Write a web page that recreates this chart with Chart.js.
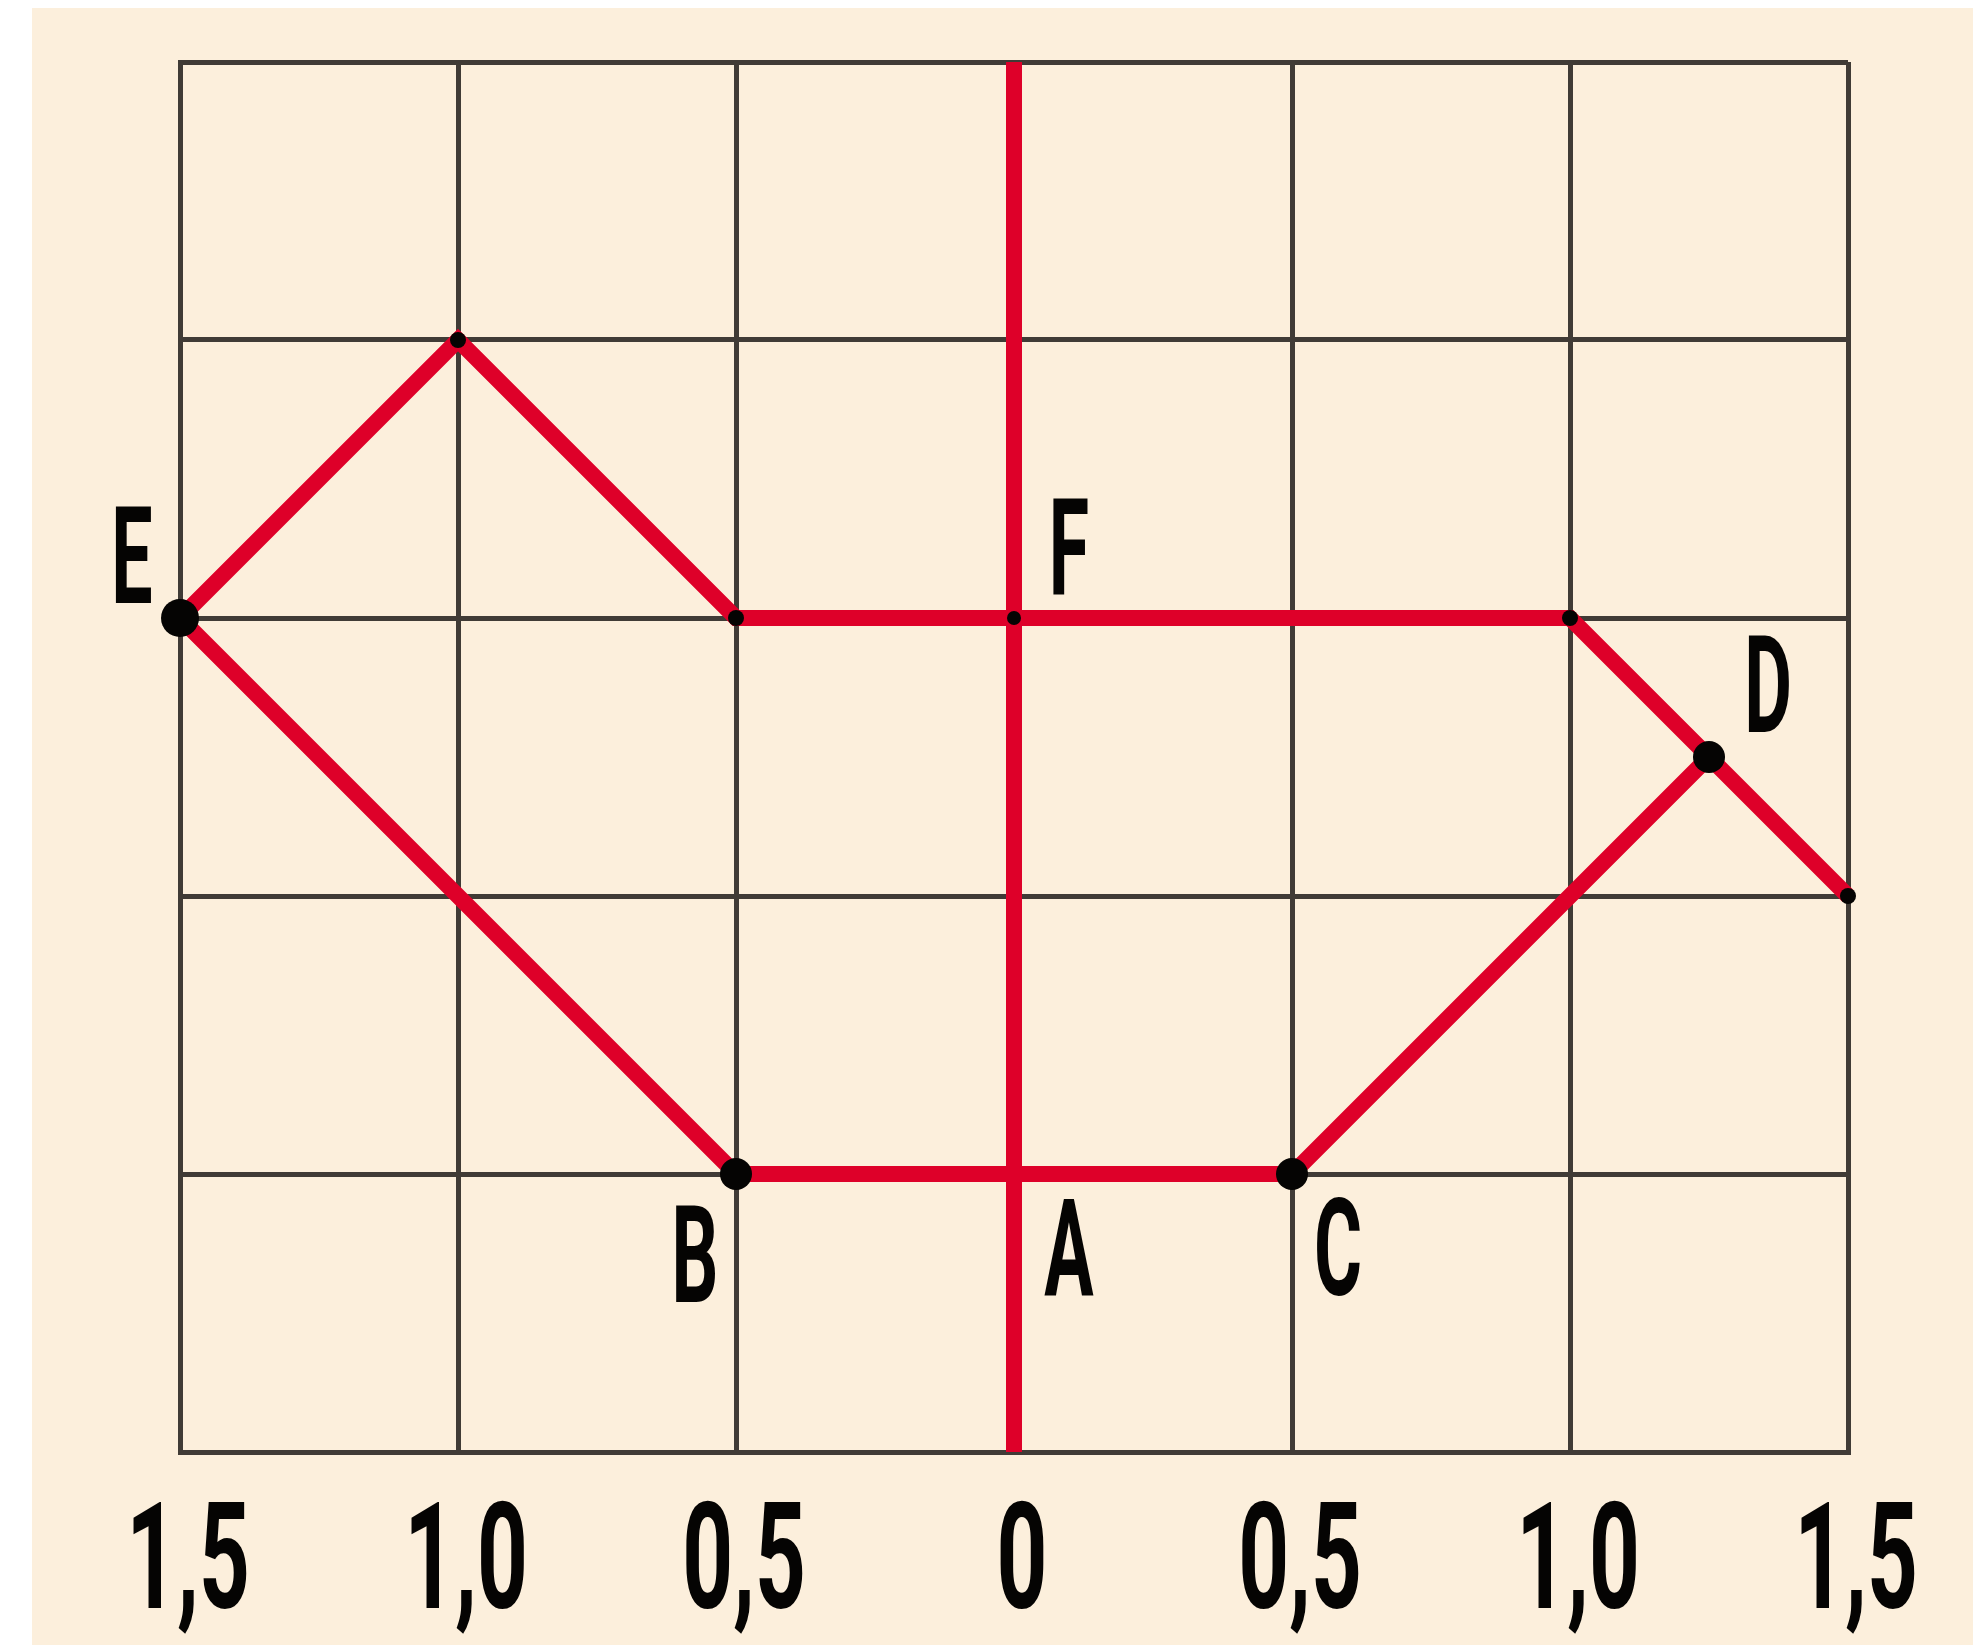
<!DOCTYPE html>
<html>
<head>
<meta charset="utf-8">
<script src="https://cdn.jsdelivr.net/npm/chart.js"></script>
<style>
  body { margin: 0; background: #ffffff; }
  #paper { position: absolute; left: 32px; top: 8px; width: 1941px; height: 1637px; background: #fcefdc; }
  #grid-chart { position: absolute; left: 0; top: 0; }
</style>
</head>
<body>
<div id="paper"></div>
<canvas id="grid-chart" width="1973" height="1645"></canvas>
<script>
// x axis ticks (shown without sign, comma decimals)
const tickValues = [-1.5, -1.0, -0.5, 0, 0.5, 1.0, 1.5];
const tickLabels = ['1,5', '1,0', '0,5', '0', '0,5', '1,0', '1,5'];

// upper red path: E -> peak -> F row -> D -> right edge
const upperX = [-1.5, -1.0, -0.5, 0, 1.0, 1.25, 1.5];
const upperY = [1.5, 2.0, 1.5, 1.5, 1.5, 1.25, 1.0];

// lower red path: E -> B -> A -> C -> D
const lowerX = [-1.5, -0.5, 0, 0.5, 1.25];
const lowerY = [1.5, 0.5, 0.5, 0.5, 1.25];

// vertical red axis
const axisX = [0, 0];
const axisY = [0, 2.5];

// black vertex dots
const dotX = [-1.5, -1.0, -0.5, 0, 1.0, 1.25, 1.5, -0.5, 0.5];
const dotY = [1.5, 2.0, 1.5, 1.5, 1.5, 1.25, 1.0, 0.5, 0.5];

// named points
const pointNames = ['E', 'F', 'D', 'B', 'A', 'C'];
const pointX = [-1.5, 0, 1.25, -0.5, 0, 0.5];
const pointY = [1.5, 1.5, 1.25, 0.5, 0.5, 0.5];

const toXY = (xs, ys) => xs.map((x, i) => ({ x: x, y: ys[i] }));

const RED = '#de0029';
const INK = '#050403';
const GRID = '#403b36';

// label offsets in pixels from each named point (center x, baseline y)
const nameOffsets = [[-48, -15], [55, -23], [59, -25], [-41, 128], [55, 121], [46, 121]];

const labelPlugin = {
    id: 'labels',
    afterDraw(chart) {
        const ctx = chart.ctx;
        const xs = chart.scales.x;
        const ys = chart.scales.y;
        ctx.save();
        ctx.fillStyle = INK;
        ctx.textAlign = 'center';
        ctx.textBaseline = 'alphabetic';

        // letters next to the points
        ctx.font = 'bold 136px Roboto, "Liberation Sans", sans-serif';
        pointNames.forEach((name, i) => {
            const px = xs.getPixelForValue(pointX[i]) + nameOffsets[i][0];
            const py = ys.getPixelForValue(pointY[i]) + nameOffsets[i][1];
            ctx.save();
            ctx.translate(px, py);
            ctx.scale(0.54, 1);
            ctx.fillText(name, 0, 0);
            ctx.restore();
        });

        // tick labels under the grid
        ctx.font = 'bold 148px Roboto, "Liberation Sans", sans-serif';
        const base = chart.chartArea.bottom + 156;
        tickLabels.forEach((lab, i) => {
            const px = xs.getPixelForValue(tickValues[i]) + 8;
            ctx.save();
            ctx.translate(px, base);
            ctx.scale(0.6, 1);
            ctx.fillText(lab, 0, 0);
            ctx.restore();
        });
        ctx.restore();
    }
};

const ctx = document.getElementById('grid-chart').getContext('2d');

const chart = new Chart(ctx, {
    type: 'scatter',
    data: {
        datasets: [
            {
                // dots on top
                label: 'dots',
                data: toXY(dotX, dotY),
                showLine: false,
                pointRadius: [19, 8, 8, 7, 8, 16, 8, 16, 16],
                pointBackgroundColor: INK,
                pointBorderWidth: 0,
                clip: false
            },
            {
                label: 'upper',
                data: toXY(upperX, upperY),
                showLine: true,
                borderColor: RED,
                borderWidth: 16,
                pointRadius: 0,
                borderCapStyle: 'butt',
                borderJoinStyle: 'miter',
                clip: false
            },
            {
                label: 'lower',
                data: toXY(lowerX, lowerY),
                showLine: true,
                borderColor: RED,
                borderWidth: 16,
                pointRadius: 0,
                borderCapStyle: 'butt',
                borderJoinStyle: 'miter',
                clip: false
            },
            {
                label: 'axis',
                data: toXY(axisX, axisY),
                showLine: true,
                borderColor: RED,
                borderWidth: 16,
                pointRadius: 0,
                borderCapStyle: 'butt',
                clip: false
            }
        ]
    },
    options: {
        responsive: false,
        animation: false,
        layout: { padding: { left: 180, top: 62, right: 125, bottom: 193 } },
        plugins: {
            legend: { display: false },
            tooltip: { enabled: false }
        },
        scales: {
            x: {
                type: 'linear',
                min: -1.5,
                max: 1.5,
                ticks: { display: false, stepSize: 0.5 },
                grid: { color: GRID, lineWidth: 5, drawTicks: false },
                border: { display: true, color: GRID, width: 5 }
            },
            y: {
                type: 'linear',
                min: 0,
                max: 2.5,
                ticks: { display: false, stepSize: 0.5 },
                grid: { color: GRID, lineWidth: 5, drawTicks: false },
                border: { display: true, color: GRID, width: 5 }
            }
        }
    },
    plugins: [labelPlugin]
});
</script>
</body>
</html>
